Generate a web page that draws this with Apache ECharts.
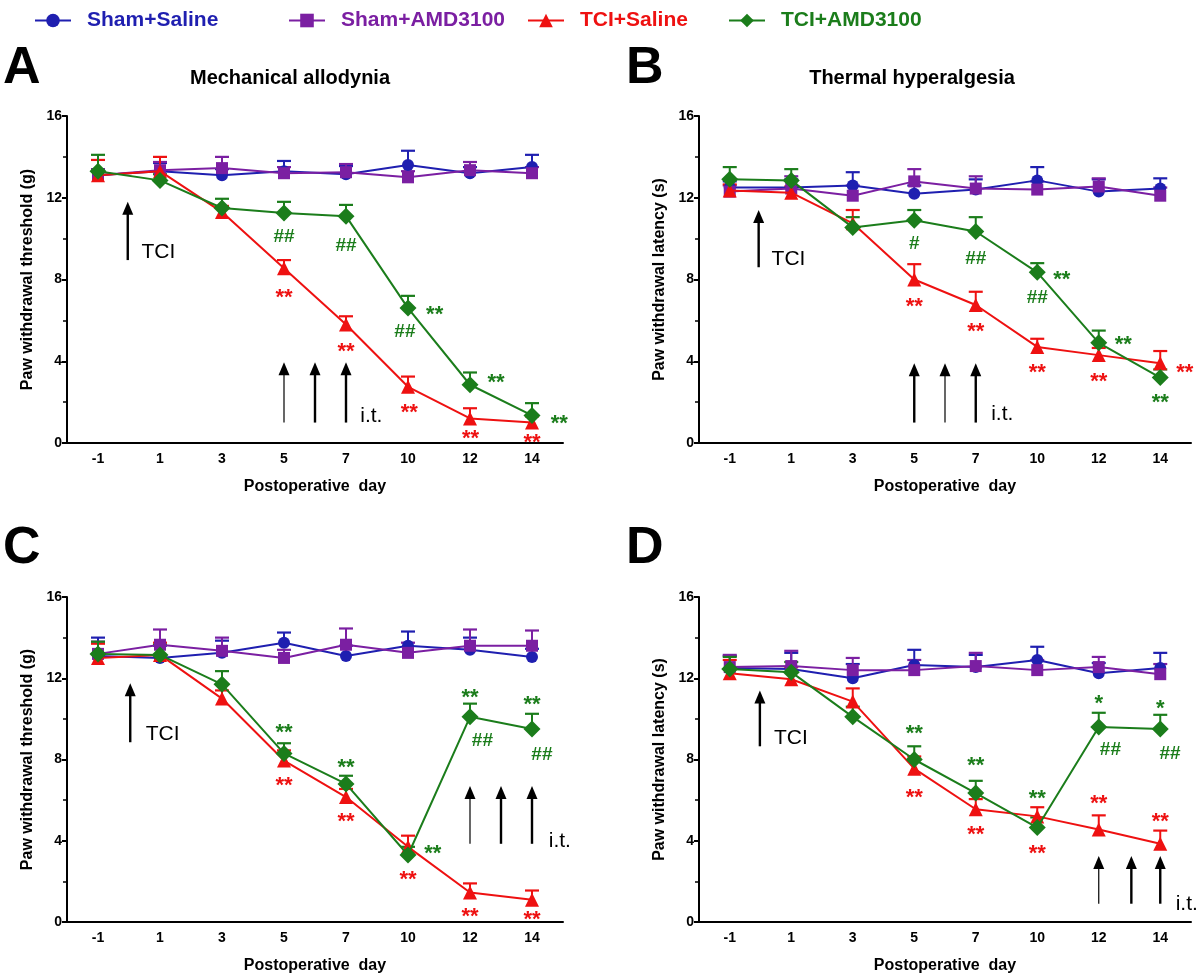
<!DOCTYPE html>
<html><head><meta charset="utf-8">
<script src="https://cdn.jsdelivr.net/npm/echarts@6/dist/echarts.min.js"></script>
<style>html,body{margin:0;padding:0;background:#fff}#c{width:1200px;height:975px}</style>
</head><body><div id="c"></div>
<script>
// ---------- data ----------
const days = ['-1', '1', '3', '5', '7', '10', '12', '14'];
const seriesNames = ['Sham+Saline', 'Sham+AMD3100', 'TCI+Saline', 'TCI+AMD3100'];

// Panel A: mechanical allodynia (first treatment window)
const A_shamSaline = [13.1, 13.3, 13.1, 13.3, 13.15, 13.6, 13.2, 13.5];
const A_shamSaline_sem = [0.3, 0.4, 0.3, 0.5, 0.4, 0.7, 0.3, 0.6];
const A_shamAMD = [13.1, 13.35, 13.45, 13.2, 13.25, 13.0, 13.35, 13.2];
const A_shamAMD_sem = [0.3, 0.4, 0.55, 0.3, 0.4, 0.3, 0.4, 0.3];
const A_tciSaline = [13.1, 13.3, 11.3, 8.55, 5.8, 2.75, 1.2, 1.0];
const A_tciSaline_sem = [0.75, 0.7, 0.3, 0.4, 0.4, 0.5, 0.5, 0.3];
const A_tciAMD = [13.3, 12.85, 11.5, 11.25, 11.1, 6.6, 2.85, 1.35];
const A_tciAMD_sem = [0.8, 0.3, 0.45, 0.55, 0.55, 0.6, 0.6, 0.6];

// Panel B: thermal hyperalgesia (first treatment window)
const B_shamSaline = [12.5, 12.5, 12.6, 12.2, 12.4, 12.85, 12.3, 12.45];
const B_shamSaline_sem = [0.3, 0.4, 0.65, 0.4, 0.5, 0.65, 0.6, 0.5];
const B_shamAMD = [12.3, 12.45, 12.1, 12.8, 12.45, 12.4, 12.55, 12.1];
const B_shamAMD_sem = [0.3, 0.6, 0.5, 0.6, 0.6, 0.4, 0.4, 0.4];
const B_tciSaline = [12.35, 12.25, 10.75, 8.0, 6.75, 4.7, 4.3, 3.9];
const B_tciSaline_sem = [0.3, 0.3, 0.65, 0.75, 0.65, 0.4, 0.35, 0.6];
const B_tciAMD = [12.9, 12.85, 10.55, 10.9, 10.35, 8.35, 4.9, 3.2];
const B_tciAMD_sem = [0.6, 0.55, 0.5, 0.5, 0.7, 0.45, 0.6, 0.4];

// Panel C: mechanical allodynia (late treatment window)
const C_shamSaline = [13.1, 13.0, 13.25, 13.75, 13.1, 13.6, 13.4, 13.05];
const C_shamSaline_sem = [0.9, 0.6, 0.6, 0.5, 0.5, 0.7, 0.6, 0.4];
const C_shamAMD = [13.2, 13.65, 13.35, 13.0, 13.65, 13.25, 13.6, 13.6];
const C_shamAMD_sem = [0.6, 0.75, 0.65, 0.4, 0.8, 0.5, 0.8, 0.75];
const C_tciSaline = [13.0, 13.15, 11.0, 7.95, 6.15, 3.7, 1.45, 1.1];
const C_tciSaline_sem = [0.7, 0.6, 0.4, 0.5, 0.4, 0.55, 0.45, 0.45];
const C_tciAMD = [13.2, 13.15, 11.7, 8.3, 6.8, 3.3, 10.1, 9.5];
const C_tciAMD_sem = [0.6, 0.5, 0.65, 0.5, 0.4, 0.4, 0.65, 0.75];

// Panel D: thermal hyperalgesia (late treatment window)
const D_shamSaline = [12.5, 12.45, 12.0, 12.65, 12.55, 12.9, 12.25, 12.5];
const D_shamSaline_sem = [0.6, 0.8, 0.7, 0.75, 0.6, 0.65, 0.5, 0.75];
const D_shamAMD = [12.55, 12.6, 12.4, 12.4, 12.6, 12.4, 12.55, 12.2];
const D_shamAMD_sem = [0.6, 0.75, 0.6, 0.5, 0.65, 0.5, 0.5, 0.5];
const D_tciSaline = [12.25, 11.95, 10.85, 7.55, 5.55, 5.2, 4.55, 3.85];
const D_tciSaline_sem = [0.65, 0.6, 0.65, 0.6, 0.5, 0.45, 0.7, 0.65];
const D_tciAMD = [12.45, 12.3, 10.1, 8.0, 6.35, 4.65, 9.6, 9.5];
const D_tciAMD_sem = [0.6, 0.5, 0.5, 0.65, 0.6, 0.5, 0.7, 0.7];

// significance marks: [x (day index), y, text, group]
const A_marks = [[3, 10.1, '##', 'g'], [4, 9.65, '##', 'g'], [4.95, 5.45, '##', 'g'],
  [5.43, 6.5, '**', 'g'], [6.42, 3.2, '**', 'g'], [7.44, 1.2, '**', 'g'],
  [3, 7.35, '**', 'r'], [4, 4.7, '**', 'r'], [5.02, 1.7, '**', 'r'], [6.01, 0.45, '**', 'r'], [7, 0.25, '**', 'r']];
const B_marks = [[3, 9.75, '#', 'g'], [4, 9.0, '##', 'g'], [5, 7.1, '##', 'g'],
  [5.4, 8.2, '**', 'g'], [6.4, 5.05, '**', 'g'], [7, 2.2, '**', 'g'],
  [3, 6.9, '**', 'r'], [4, 5.7, '**', 'r'], [5, 3.65, '**', 'r'], [6, 3.25, '**', 'r'], [7.4, 3.65, '**', 'r']];
const C_marks = [[3, 9.55, '**', 'g'], [4, 7.85, '**', 'g'], [5.4, 3.6, '**', 'g'], [6, 11.3, '**', 'g'], [7, 10.95, '**', 'g'],
  [6.2, 8.9, '##', 'g'], [7.16, 8.25, '##', 'g'],
  [3, 6.95, '**', 'r'], [4, 5.15, '**', 'r'], [5, 2.3, '**', 'r'], [6, 0.5, '**', 'r'], [7, 0.35, '**', 'r']];
const D_marks = [[3, 9.5, '**', 'g'], [4, 7.95, '**', 'g'], [5, 6.3, '**', 'g'], [6, 11.0, '*', 'g'], [7, 10.75, '*', 'g'],
  [6.19, 8.5, '##', 'g'], [7.16, 8.3, '##', 'g'],
  [3, 6.35, '**', 'r'], [4, 4.55, '**', 'r'], [5, 3.6, '**', 'r'], [6, 6.05, '**', 'r'], [7, 5.15, '**', 'r']];

// arrows: [x (day index), yFrom, yTo]
const A_arrows = [[0.48, 8.95, 11.8], [3, 1.0, 3.95], [3.5, 1.0, 3.95], [4, 1.0, 3.95]];
const B_arrows = [[0.47, 8.6, 11.4], [3, 1.0, 3.9], [3.5, 1.0, 3.9], [4, 1.0, 3.9]];
const C_arrows = [[0.52, 8.85, 11.75], [6, 3.85, 6.7], [6.5, 3.85, 6.7], [7, 3.85, 6.7]];
const D_arrows = [[0.49, 8.65, 11.4], [6, 0.9, 3.25], [6.53, 0.9, 3.25], [7, 0.9, 3.25]];
// word labels: [x, y, text]
const A_words = [[0.7, 9.35, 'TCI'], [4.23, 1.3, 'i.t.']];
const B_words = [[0.68, 9.0, 'TCI'], [4.25, 1.4, 'i.t.']];
const C_words = [[0.77, 9.25, 'TCI'], [7.27, 4.0, 'i.t.']];
const D_words = [[0.72, 9.05, 'TCI'], [7.25, 0.9, 'i.t.']];

const titles = ['Mechanical allodynia', 'Thermal hyperalgesia'];
const panelLetters = ['A', 'B', 'C', 'D'];
const yNames = ['Paw withdrawal threshold (g)', 'Paw withdrawal latency (s)', 'Paw withdrawal threshold (g)', 'Paw withdrawal latency (s)'];
const xName = 'Postoperative  day';

// ---------- styles ----------
const FONT = 'Arial, "Liberation Sans", sans-serif';
const colors = ['#1f1fb0', '#7b1fa2', '#ee1111', '#1b7d1b'];
const symbols = ['circle', 'rect', 'triangle', 'diamond'];
const symbolSizes = [12, 12, 14, 17];
const thinArrowIndex = [1, 2, 1, 1];
const grids = [
  { left: 67, top: 116, width: 496, height: 327 },
  { left: 699, top: 116, width: 492, height: 327 },
  { left: 67, top: 597, width: 496, height: 327 },
  { left: 699, top: 597, width: 492, height: 327 }
];

const panels = [
  { means: [A_shamSaline, A_shamAMD, A_tciSaline, A_tciAMD], sems: [A_shamSaline_sem, A_shamAMD_sem, A_tciSaline_sem, A_tciAMD_sem], marks: A_marks, arrows: A_arrows, words: A_words },
  { means: [B_shamSaline, B_shamAMD, B_tciSaline, B_tciAMD], sems: [B_shamSaline_sem, B_shamAMD_sem, B_tciSaline_sem, B_tciAMD_sem], marks: B_marks, arrows: B_arrows, words: B_words },
  { means: [C_shamSaline, C_shamAMD, C_tciSaline, C_tciAMD], sems: [C_shamSaline_sem, C_shamAMD_sem, C_tciSaline_sem, C_tciAMD_sem], marks: C_marks, arrows: C_arrows, words: C_words },
  { means: [D_shamSaline, D_shamAMD, D_tciSaline, D_tciAMD], sems: [D_shamSaline_sem, D_shamAMD_sem, D_tciSaline_sem, D_tciAMD_sem], marks: D_marks, arrows: D_arrows, words: D_words }
];

const xAxes = [], yAxes = [], series = [];
panels.forEach((p, g) => {
  xAxes.push({
    gridIndex: g, type: 'category', data: days, boundaryGap: true,
    axisLine: { onZero: false, lineStyle: { color: '#000', width: 2 } },
    axisTick: { alignWithLabel: true, length: 6, lineStyle: { color: '#000', width: 2 } },
    axisLabel: { color: '#000', fontWeight: 'bold', fontSize: 14, fontFamily: FONT, margin: 9 },
    name: xName, nameLocation: 'middle', nameGap: 36,
    nameTextStyle: { color: '#000', fontWeight: 'bold', fontSize: 16, fontFamily: FONT }
  });
  xAxes.push({ gridIndex: g, type: 'value', min: -0.5, max: 7.5, show: false });
  yAxes.push({
    gridIndex: g, type: 'value', min: 0, max: 16, interval: 4,
    axisLine: { show: true, onZero: false, lineStyle: { color: '#000', width: 2 } },
    axisTick: { show: true, length: 5, lineStyle: { color: '#000', width: 2 } },
    minorTick: { show: true, splitNumber: 2, length: 4, lineStyle: { color: '#000', width: 1.5 } },
    splitLine: { show: false },
    axisLabel: { color: '#000', fontWeight: 'bold', fontSize: 14, fontFamily: FONT, margin: 5 },
    name: yNames[g], nameLocation: 'middle', nameGap: 31,
    nameTextStyle: { color: '#000', fontWeight: 'bold', fontSize: 16, fontFamily: FONT }
  });
  const catX = 2 * g, valX = 2 * g + 1;
  p.means.forEach((m, k) => {
    const col = colors[k];
    const sem = p.sems[k];
    series.push({
      type: 'custom', xAxisIndex: catX, yAxisIndex: g, z: 2, silent: true,
      data: m.map((v, i) => [i, v, sem[i]]),
      renderItem: function (params, api) {
        const i = api.value(0), v = api.value(1), s = api.value(2);
        const p0 = api.coord([i, v]), p1 = api.coord([i, v + s]);
        return { type: 'group', children: [
          { type: 'line', shape: { x1: p0[0], y1: p0[1], x2: p1[0], y2: p1[1] }, style: { stroke: col, lineWidth: 2 } },
          { type: 'line', shape: { x1: p1[0] - 7, y1: p1[1], x2: p1[0] + 7, y2: p1[1] }, style: { stroke: col, lineWidth: 2.2 } }
        ] };
      }
    });
    series.push({
      name: seriesNames[k], type: 'line', xAxisIndex: catX, yAxisIndex: g, z: 3 + k * 0.1,
      data: m, symbol: symbols[k], symbolSize: symbolSizes[k], showSymbol: true,
      lineStyle: { color: col, width: 2 }, itemStyle: { color: col }, animation: false
    });
  });
  // arrows
  const thin = thinArrowIndex[g];
  series.push({
    type: 'custom', xAxisIndex: valX, yAxisIndex: g, z: 5, silent: true,
    data: p.arrows,
    renderItem: function (params, api) {
      const x = api.value(0), y0 = api.value(1), y1 = api.value(2);
      const a = api.coord([x, y0]), b = api.coord([x, y1]);
      const w = params.dataIndex === thin ? 1.2 : 2.4;
      const hw = 5.5, hh = 13;
      return { type: 'group', children: [
        { type: 'line', shape: { x1: a[0], y1: a[1], x2: b[0], y2: b[1] + hh - 2 }, style: { stroke: '#000', lineWidth: w } },
        { type: 'polygon', shape: { points: [[b[0], b[1]], [b[0] - hw, b[1] + hh], [b[0] + hw, b[1] + hh]] }, style: { fill: '#000' } }
      ] };
    }
  });
  // significance marks
  const marks = p.marks;
  series.push({
    type: 'custom', xAxisIndex: valX, yAxisIndex: g, z: 6, silent: true,
    data: marks.map(d => [d[0], d[1]]),
    renderItem: function (params, api) {
      const d = marks[params.dataIndex];
      const c = api.coord([d[0], d[1]]);
      const isStar = d[2].indexOf('*') >= 0;
      return { type: 'text', x: c[0], y: c[1] + (isStar ? 5 : 0), style: {
        text: d[2], fill: d[3] === 'r' ? colors[2] : colors[3],
        font: 'bold ' + (isStar ? 22 : 19) + 'px ' + FONT, align: 'center', verticalAlign: 'middle'
      } };
    }
  });
  const words = p.words;
  series.push({
    type: 'custom', xAxisIndex: valX, yAxisIndex: g, z: 6, silent: true,
    data: words.map(d => [d[0], d[1]]),
    renderItem: function (params, api) {
      const d = words[params.dataIndex];
      const c = api.coord([d[0], d[1]]);
      return { type: 'text', x: c[0], y: c[1], style: {
        text: d[2], fill: '#000', font: '21px ' + FONT, align: 'left', verticalAlign: 'middle'
      } };
    }
  });
});

const legendLefts = [29, 283, 522, 723];
const legends = seriesNames.map((n, k) => ({
  data: [n], left: legendLefts[k], top: 5, itemWidth: 36, itemHeight: 17, selectedMode: false,
  textStyle: { color: colors[k], fontWeight: 'bold', fontSize: 21, fontFamily: FONT, padding: [0, 0, 0, 11] }
}));

const letterPos = [[3, 69], [626, 69], [3, 549], [626, 549]];
const graphics = [];
panelLetters.forEach((L, i) => graphics.push({
  type: 'text', left: letterPos[i][0], top: letterPos[i][1] - 26,
  style: { text: L, fill: '#000', font: 'bold 52px ' + FONT }
}));
graphics.push({ type: 'text', x: 290, y: 78, style: { text: titles[0], fill: '#000', font: 'bold 20px ' + FONT, align: 'center', verticalAlign: 'middle' } });
graphics.push({ type: 'text', x: 912, y: 78, style: { text: titles[1], fill: '#000', font: 'bold 20px ' + FONT, align: 'center', verticalAlign: 'middle' } });

const chart = echarts.init(document.getElementById('c'));
chart.setOption({
  backgroundColor: '#fff', animation: false,
  grid: grids, xAxis: xAxes, yAxis: yAxes, legend: legends, series: series, graphic: graphics
});
</script>
</body></html>
